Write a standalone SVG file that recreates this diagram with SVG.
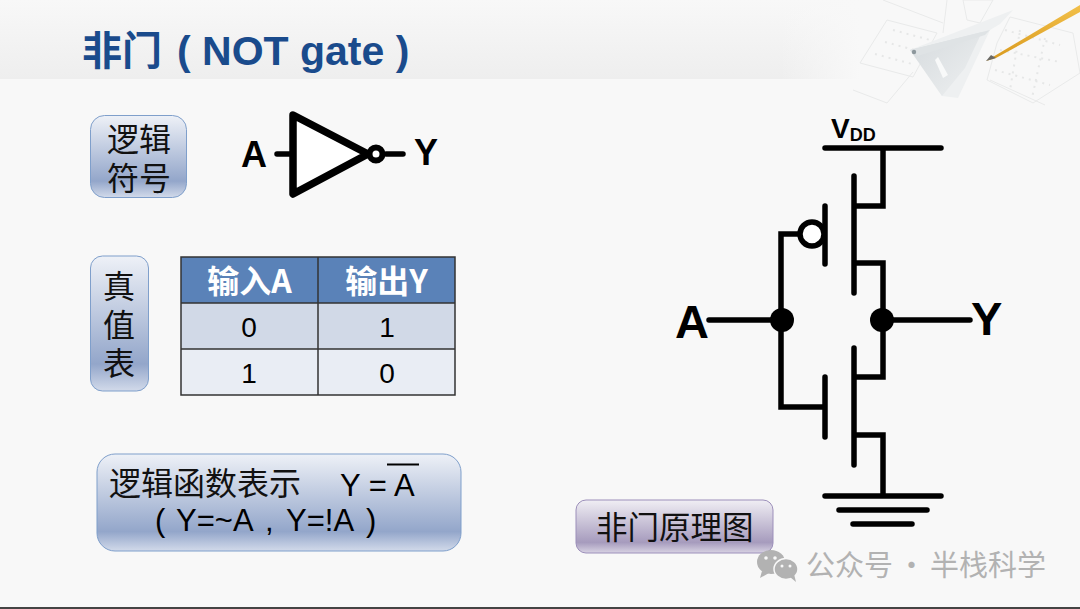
<svg xmlns="http://www.w3.org/2000/svg" width="1080" height="609" viewBox="0 0 1080 609">
<style>
.w{fill:none;stroke:#000;stroke-width:5.500;stroke-linecap:round;stroke-linejoin:miter}
.t{font-family:"Liberation Sans","Noto Sans CJK SC",sans-serif;fill:#000}
.cj{font-family:"Noto Sans CJK SC",sans-serif;fill:#111}
.b{font-weight:700}
.box{fill:url(#blue);stroke:#7f9fcb;stroke-width:1}
.cell{font-size:28px;text-anchor:middle}
.pl{fill:none;stroke:#e9eaea;stroke-width:1}
.pd{fill:none;stroke:#e6e7e7;stroke-width:2;stroke-dasharray:2 5}
</style>
<defs>
<linearGradient id="head" x1="0" y1="0" x2="0" y2="1"><stop offset="0" stop-color="#f8f8f8"/><stop offset="1" stop-color="#eeeeee"/></linearGradient>
<linearGradient id="fade" x1="0" y1="0" x2="1" y2="0"><stop offset="0" stop-color="#f8f8f8" stop-opacity="0"/><stop offset="1" stop-color="#f8f8f8"/></linearGradient>
<linearGradient id="blue" x1="0" y1="0" x2="0" y2="1"><stop offset="0" stop-color="#eef1f7"/><stop offset=".8" stop-color="#93a6ca"/><stop offset="1" stop-color="#d2daea"/></linearGradient>
<linearGradient id="purple" x1="0" y1="0" x2="0" y2="1"><stop offset="0" stop-color="#f0eef4"/><stop offset=".8" stop-color="#a69bbd"/><stop offset="1" stop-color="#d8d3e3"/></linearGradient>
<linearGradient id="pen" x1="0" y1="0" x2="0" y2="1"><stop offset="0" stop-color="#f2c04a"/><stop offset="1" stop-color="#d99a1e"/></linearGradient>
<linearGradient id="ruler" x1="0" y1="0" x2="1" y2="1"><stop offset="0" stop-color="#d5dadd"/><stop offset="1" stop-color="#eef0f1"/></linearGradient>
</defs>
<rect width="1080" height="609" fill="#f8f8f8"/>
<rect width="860" height="79" fill="url(#head)"/>
<rect x="780" width="80" height="79" fill="url(#fade)"/>
<g id="decor">
<path class="pl" d="M887 20L937 33L913 77L860 63ZM853 90L887 103L913 72M1010 17L1073 33L1080 73L1033 103L987 80L997 43ZM963 0H993L980 23L967 20ZM883 0L943 23M947 0L943 33M990 80L1045 105"/>
<path class="pd" d="M893 30L930 40M885 42L922 52M875 54L912 64M1005 30L1060 45M1000 50L1060 62M995 70L1050 85M1020 30L1010 90M1045 38L1032 98"/>
<path d="M910 50L1013 10L1000 24L990 30L958 98L942 96Z" fill="#eef0f1"/>
<path d="M910 50L982 32L965 68L942 96Z" fill="url(#ruler)"/>
<path d="M910 50L990 30L985 35L918 56Z" fill="#dfe3e5"/>
<path d="M938 57L948 75L943 78L935 60Z" fill="#f8f9f9"/>
<circle cx="914" cy="52" r="2.200" fill="#8d979c"/>
<path d="M986 61L1080 5V12L996 58Z" fill="url(#pen)"/>
<path d="M986 61L991 55L996 58Z" fill="#6b6a66"/>
</g>
<g id="title">
<text x="82" y="65" class="cj b" font-size="40" style="fill:#1a4b8c">非门</text>
<text x="177" y="65" class="t b" font-size="41" style="fill:#1a4b8c">( NOT gate )</text>
</g>
<g id="symbol-label">
<rect class="box" x="90.500" y="115.500" width="96" height="82" rx="14"/>
<text class="cj" font-size="32"><tspan x="107" y="151">逻辑</tspan><tspan x="107" y="190">符号</tspan></text>
</g>
<g id="inverter">
<path d="M293 115L368 154L293 194Z" fill="#fff" stroke="#000" stroke-width="7.500" stroke-linejoin="round"/>
<path class="w" d="M277 154H292M386 154H403"/>
<circle cx="376" cy="154" r="6.500" fill="#fff" stroke="#000" stroke-width="6"/>
<text class="t b" font-size="36" x="241" y="167">A</text>
<text class="t b" font-size="36" x="414" y="165">Y</text>
</g>
<g id="truth-label">
<rect class="box" x="90.500" y="256" width="58" height="135" rx="12"/>
<text class="cj" font-size="32"><tspan x="103" y="298">真</tspan><tspan x="103" y="337">值</tspan><tspan x="103" y="375">表</tspan></text>
</g>
<g id="truth-table">
<rect x="181" y="257" width="274" height="46" fill="#5a82b8"/>
<rect x="181" y="303" width="274" height="46" fill="#d1d9e7"/>
<rect x="181" y="349" width="274" height="46" fill="#e9edf4"/>
<path d="M181 257H455V395H181ZM318 257V395M181 303H455M181 349H455" fill="none" stroke="#333" stroke-width="1.500"/>
<text class="cj b" font-size="32" x="249.500" y="293" text-anchor="middle" style="fill:#fff">输入A</text>
<text class="cj b" font-size="32" x="386.500" y="293" text-anchor="middle" style="fill:#fff">输出Y</text>
<text class="t cell" x="249" y="337">0</text>
<text class="t cell" x="387" y="337">1</text>
<text class="t cell" x="249" y="383">1</text>
<text class="t cell" x="387" y="383">0</text>
</g>
<g id="function">
<rect class="box" x="97" y="454" width="364" height="97" rx="18"/>
<text class="cj" font-size="32" x="109" y="495">逻辑函数表示</text>
<text class="t" font-size="31" x="340" y="496">Y =</text>
<text class="t" font-size="31" x="394" y="496">A</text>
<path d="M387 464.500H419" stroke="#000" stroke-width="2"/>
<text class="t" font-size="31" y="531"><tspan x="155">(</tspan><tspan x="176">Y=~A</tspan><tspan x="265">,</tspan><tspan x="286">Y=!A</tspan><tspan x="366">)</tspan></text>
</g>
<g id="circuit-label">
<rect x="576" y="500" width="197" height="53" rx="10" fill="url(#purple)" stroke="#9c8fba"/>
<text class="cj" font-size="31.500" x="596" y="539">非门原理图</text>
</g>
<g id="connectors">
<path class="w" d="M825 148H941M883 148V206H854M854 176V293M854 263H883V320M825 206V264M812 234H781V407H825M825 377V437M854 348V465M854 377H883V320M854 435H883V496M825 496H941M839 510H927M853 524H912M709 320H782M882 320H970"/>
<circle cx="812" cy="234" r="12" fill="#fff" stroke="#000" stroke-width="5.500"/>
<circle cx="782" cy="320" r="12"/>
<circle cx="882" cy="320" r="12"/>
</g>
<g id="circuit-text">
<text class="t b" font-size="28" x="831" y="138">V<tspan font-size="18" dy="3">DD</tspan></text>
<text class="t b" font-size="47" x="675" y="338">A</text>
<text class="t b" font-size="47" x="971" y="335">Y</text>
</g>
<g id="watermark">
<ellipse cx="771" cy="562" rx="14" ry="12" fill="#b2b2b2"/>
<path d="M762 571L760 578L769 573Z" fill="#b2b2b2"/>
<ellipse cx="786" cy="569" rx="12" ry="10.500" fill="#b2b2b2" stroke="#f8f8f8" stroke-width="1.500"/>
<path d="M790 577L796 582L794 574Z" fill="#b2b2b2"/>
<circle cx="766" cy="558" r="1.800" fill="#f8f8f8"/><circle cx="775" cy="558" r="1.800" fill="#f8f8f8"/>
<circle cx="782" cy="566" r="1.500" fill="#f8f8f8"/><circle cx="790" cy="566" r="1.500" fill="#f8f8f8"/>
<text class="cj" font-size="29" y="576" style="fill:#b2b2b2"><tspan x="806">公众号</tspan><tspan x="897">·</tspan><tspan x="930">半栈科学</tspan></text>
</g>
<rect y="607" width="1080" height="2" fill="#444"/>
</svg>
